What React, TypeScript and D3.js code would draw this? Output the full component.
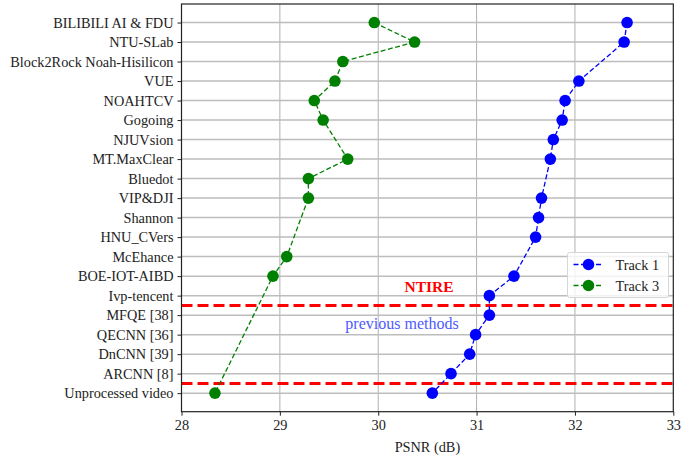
import React, { useEffect, useRef } from 'react';
import * as d3 from 'd3';

const methods = [
  'BILIBILI AI & FDU', 'NTU-SLab', 'Block2Rock Noah-Hisilicon', 'VUE', 'NOAHTCV',
  'Gogoing', 'NJUVsion', 'MT.MaxClear', 'Bluedot', 'VIP&DJI', 'Shannon', 'HNU_CVers',
  'McEhance', 'BOE-IOT-AIBD', 'Ivp-tencent', 'MFQE [38]', 'QECNN [36]', 'DnCNN [39]',
  'ARCNN [8]', 'Unprocessed video',
];

// null = team did not enter that track
const track1: (number | null)[] = [
  32.53, 32.50, null, 32.04, 31.90, 31.87, 31.78, 31.75, null, 31.66, 31.63, 31.60,
  null, 31.38, 31.13, 31.13, 30.99, 30.93, 30.74, 30.55,
];
const track3: (number | null)[] = [
  29.96, 30.37, 29.64, 29.56, 29.35, 29.44, null, 29.69, 29.29, 29.29, null, null,
  29.07, 28.93, null, null, null, null, null, 28.34,
];

const xTicks = [28, 29, 30, 31, 32, 33];
// separators sit between rows (Ivp-tencent | MFQE, ARCNN | Unprocessed)
const separators = [14.5, 18.5];

const W = 690;
const H = 457;
const FONT = "'Liberation Serif', serif";
const FS = 14.3;

const App: React.FC = () => {
  const svgRef = useRef<SVGSVGElement>(null);

  useEffect(() => {
    if (!svgRef.current) return;
    const svg = d3.select(svgRef.current);
    svg.selectAll('*').remove();

    const m = { left: 181.5, right: 16.7, top: 4, bottom: 45.3 };
    const x = d3.scaleLinear().domain([28, 33]).range([m.left, W - m.right]);
    const n = methods.length;
    const pad = (n - 1) * 0.05;
    const y = d3.scaleLinear().domain([-pad, n - 1 + pad]).range([m.top, H - m.bottom]);

    // grid
    const grid = svg.append('g').attr('stroke', '#b0b0b0').attr('stroke-width', 1);
    grid.selectAll('line.v')
      .data(xTicks.slice(1, -1))
      .join('line')
      .attr('x1', d => x(d)).attr('x2', d => x(d))
      .attr('y1', m.top).attr('y2', H - m.bottom);
    grid.selectAll('line.h')
      .data(methods)
      .join('line')
      .attr('x1', m.left).attr('x2', W - m.right)
      .attr('y1', (_, i) => y(i)).attr('y2', (_, i) => y(i))
      .attr('stroke', '#bdbdbd')
      .attr('stroke-width', 1.5);

    // separators
    svg.append('g')
      .selectAll('line')
      .data(separators)
      .join('line')
      .attr('x1', m.left).attr('x2', W - m.right)
      .attr('y1', d => y(d)).attr('y2', d => y(d))
      .attr('stroke', '#ff0000')
      .attr('stroke-width', 3)
      .attr('stroke-dasharray', '11,5');

    const drawSeries = (vals: (number | null)[], color: string) => {
      const pts = vals
        .map((v, i) => ({ v, i }))
        .filter(p => p.v !== null) as { v: number; i: number }[];
      const line = d3.line<{ v: number; i: number }>()
        .x(d => x(d.v))
        .y(d => y(d.i));
      svg.append('path')
        .datum(pts)
        .attr('d', line)
        .attr('fill', 'none')
        .attr('stroke', color)
        .attr('stroke-width', 1.3)
        .attr('stroke-dasharray', '5,2.5');
      svg.append('g')
        .selectAll('circle')
        .data(pts)
        .join('circle')
        .attr('cx', d => x(d.v))
        .attr('cy', d => y(d.i))
        .attr('r', 5.8)
        .attr('fill', color);
    };
    drawSeries(track1, '#0000ff');
    drawSeries(track3, '#008000');

    // annotations
    svg.append('text')
      .attr('x', 429).attr('y', 292)
      .attr('text-anchor', 'middle')
      .style('font-family', FONT)
      .attr('font-weight', 'bold')
      .attr('font-size', 15.5)
      .attr('fill', '#ff0000')
      .text('NTIRE');
    svg.append('text')
      .attr('x', 402).attr('y', 329)
      .attr('text-anchor', 'middle')
      .style('font-family', FONT)
      .attr('font-size', 16)
      .attr('fill', '#4d5bff')
      .text('previous methods');

    // axes
    const xAxis = svg.append('g')
      .attr('transform', `translate(0,${H - m.bottom})`)
      .call(d3.axisBottom(x).tickValues(xTicks).tickSize(4).tickPadding(4).tickFormat(d3.format('d')));
    const yAxis = svg.append('g')
      .attr('transform', `translate(${m.left},0)`)
      .call(d3.axisLeft(y).tickValues(d3.range(n)).tickSize(4).tickPadding(4)
        .tickFormat(i => methods[i as number]));
    [xAxis, yAxis].forEach(a => {
      a.select('.domain').remove();
      a.selectAll('text').style('font-family', FONT).attr('font-size', FS).attr('fill', '#222');
      a.selectAll('line').attr('stroke', '#222').attr('stroke-width', 1);
    });

    // frame
    svg.append('rect')
      .attr('x', m.left).attr('y', m.top)
      .attr('width', W - m.right - m.left).attr('height', H - m.bottom - m.top)
      .attr('fill', 'none')
      .attr('stroke', '#222')
      .attr('stroke-width', 1.2);

    svg.append('text')
      .attr('x', (m.left + W - m.right) / 2).attr('y', 452)
      .attr('text-anchor', 'middle')
      .style('font-family', FONT)
      .attr('font-size', FS)
      .attr('fill', '#222')
      .text('PSNR (dB)');

    // legend
    const lg = svg.append('g').attr('transform', 'translate(567.5,252.5)');
    lg.append('rect')
      .attr('width', 101).attr('height', 45).attr('rx', 2)
      .attr('fill', 'white').attr('fill-opacity', 0.8)
      .attr('stroke', '#d6d6d6');
    const entries = [{ label: 'Track 1', color: '#0000ff' }, { label: 'Track 3', color: '#008000' }];
    entries.forEach((e, i) => {
      const cy = 12 + i * 21;
      lg.append('line')
        .attr('x1', 6).attr('x2', 36).attr('y1', cy).attr('y2', cy)
        .attr('stroke', e.color).attr('stroke-width', 1.3).attr('stroke-dasharray', '5,2.5');
      lg.append('circle').attr('cx', 21).attr('cy', cy).attr('r', 5.8).attr('fill', e.color);
      lg.append('text')
        .attr('x', 48).attr('y', cy).attr('dy', '0.35em')
        .style('font-family', FONT).attr('font-size', FS).attr('fill', '#222')
        .text(e.label);
    });
  }, []);

  return (
    <svg ref={svgRef} width={W} height={H} style={{ display: 'block', position: 'absolute', left: 0, top: 0 }} />
  );
};

export default App;
